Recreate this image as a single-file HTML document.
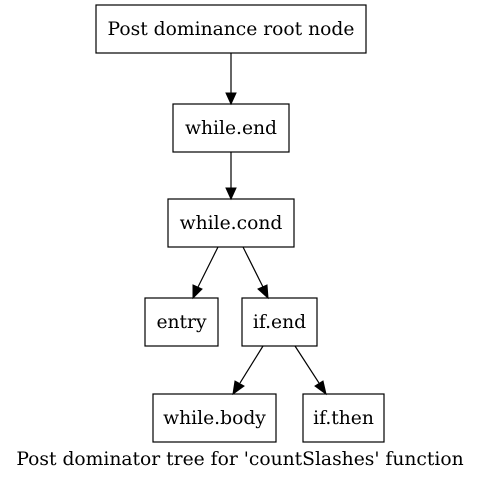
<!DOCTYPE html>
<html><head><style>html,body{margin:0;padding:0;background:#fff;}svg{display:block}</style></head>
<body>
<svg width="481" height="480" xmlns="http://www.w3.org/2000/svg" font-family="'DejaVu Serif', serif" font-size="18.7">
<rect width="481" height="480" fill="#fff"/>
<g fill="#fff" stroke="#000" stroke-width="1.2">
<rect x="96" y="5" width="270" height="48"/>
<rect x="173" y="104" width="116" height="48"/>
<rect x="168" y="199" width="126" height="48"/>
<rect x="145" y="298" width="73" height="48"/>
<rect x="242" y="298" width="75" height="48"/>
<rect x="153" y="394" width="123" height="48"/>
<rect x="303" y="394" width="81" height="48"/>
</g>
<g stroke="#000" stroke-width="1.2" fill="none">
<line x1="231" y1="53" x2="231" y2="93"/>
<line x1="231" y1="152" x2="231" y2="188"/>
<line x1="218" y1="247" x2="198" y2="287"/>
<line x1="243" y1="247" x2="263" y2="287"/>
<line x1="263" y1="346" x2="240" y2="383"/>
<line x1="295" y1="346" x2="319" y2="383"/>
</g>
<g fill="#000" stroke="#000">
<polygon points="226,93 236,93 231,104"/>
<polygon points="226,188 236,188 231,199"/>
<polygon points="193,285 202,289 193,298"/>
<polygon points="258,289 267,285 268,298"/>
<polygon points="235,381 244,386 233,394"/>
<polygon points="315,386 323,381 326,394"/>
</g>
<g text-anchor="middle" fill="#000">
<text x="231" y="35">Post dominance root node</text>
<text x="231" y="134">while.end</text>
<text x="231" y="229">while.cond</text>
<text x="181.5" y="328">entry</text>
<text x="279.5" y="328">if.end</text>
<text x="214.5" y="424">while.body</text>
<text x="343.5" y="424">if.then</text>
<text x="240" y="465">Post dominator tree for 'countSlashes' function</text>
</g>
</svg>
</body></html>
